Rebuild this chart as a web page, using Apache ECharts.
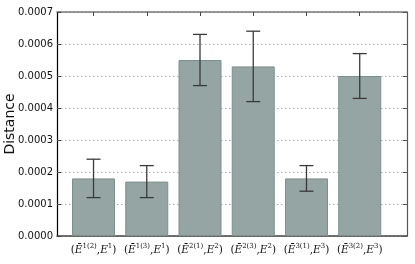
<!DOCTYPE html>
<html><head><meta charset="utf-8">
<script src="https://cdn.jsdelivr.net/npm/echarts@6/dist/echarts.min.js"></script>
<style>html,body{margin:0;padding:0;background:#fff}#c{width:415px;height:264px}</style>
</head><body><div id="c"></div>
<script>
// data
var barSup = ['1(2)', '1(3)', '2(1)', '2(3)', '3(1)', '3(2)'];
var targetSup = ['1', '1', '2', '2', '3', '3'];
var distances = [0.00018, 0.00017, 0.00055, 0.00053, 0.00018, 0.00050];
var errLow = [0.00012, 0.00012, 0.00047, 0.00042, 0.00014, 0.00043];
var errHigh = [0.00024, 0.00022, 0.00063, 0.00064, 0.00022, 0.00057];
var yTicks = [0, 0.0001, 0.0002, 0.0003, 0.0004, 0.0005, 0.0006, 0.0007];

var positions = distances.map(function (_, i) { return i; });
var barData = distances.map(function (v, i) { return [i, v]; });
var errData = distances.map(function (_, i) { return [i, errLow[i], errHigh[i]]; });

function labelFor(v) {
  var i = Math.round(v);
  return '{p|(}{e|E\u0304}{s|' + barSup[i] + '}{p|,}{e|E}{s|' + targetSup[i] + '}{p|)}';
}

var chart = echarts.init(document.getElementById('c'), null, { renderer: 'canvas' });
var xCommon = {
  type: 'value', min: -0.686, max: 5.888,
  splitLine: { show: false }
};
chart.setOption({
  animation: false,
  grid: { left: 57, right: 8, top: 12, bottom: 28, containLabel: false, outerBoundsMode: 'none' },
  xAxis: [
    Object.assign({}, xCommon, {
      position: 'bottom',
      axisLine: { show: true, onZero: false, lineStyle: { color: '#444', width: 1.5 } },
      axisTick: { show: true, inside: true, length: 4, customValues: positions, lineStyle: { color: '#444' } },
      axisLabel: {
        show: true, customValues: positions, formatter: labelFor, margin: 7,
        rich: {
          p: { fontFamily: 'DejaVu Serif', fontSize: 10.5, color: '#111' },
          e: { fontFamily: 'DejaVu Serif', fontStyle: 'italic', fontSize: 10.5, color: '#111' },
          s: { fontFamily: 'DejaVu Serif', fontSize: 7, color: '#111', padding: [0, 0, 8, 0] }
        }
      }
    }),
    Object.assign({}, xCommon, {
      position: 'top',
      axisLine: { show: true, onZero: false, lineStyle: { color: '#777', width: 1.5 } },
      axisTick: { show: true, inside: true, length: 4, customValues: positions, lineStyle: { color: '#444' } },
      axisLabel: { show: false }
    })
  ],
  yAxis: [
    {
      type: 'value', min: 0, max: 0.0007, interval: 0.0001, position: 'left',
      name: 'Distance', nameLocation: 'middle', nameGap: 40, nameMoveOverlap: false,
      nameTextStyle: { fontFamily: 'DejaVu Sans', fontSize: 14, color: '#111' },
      axisLine: { show: true, onZero: false, lineStyle: { color: '#000', width: 1.2 } },
      axisTick: { show: true, inside: true, length: 4, lineStyle: { color: '#444' } },
      axisLabel: {
        fontFamily: 'DejaVu Sans', fontSize: 10, color: '#111', margin: 4,
        formatter: function (v) { return v.toFixed(4); }
      },
      splitLine: { show: true, lineStyle: { color: '#aaa', type: [1.5, 2.5], width: 1 } }
    },
    {
      type: 'value', min: 0, max: 0.0007, interval: 0.0001, position: 'right',
      axisLine: { show: true, onZero: false, lineStyle: { color: '#555', width: 1.2 } },
      axisTick: { show: true, inside: true, length: 4, lineStyle: { color: '#555' } },
      axisLabel: { show: false },
      splitLine: { show: false }
    }
  ],
  series: [
    {
      type: 'bar', data: barData, barWidth: 43, xAxisIndex: 0, yAxisIndex: 0,
      itemStyle: { color: '#95a5a3', borderColor: '#7b908e', borderWidth: 1 },
      z: 2
    },
    {
      type: 'custom', data: errData, xAxisIndex: 0, yAxisIndex: 0,
      encode: { x: 0, y: [1, 2] }, z: 5,
      renderItem: function (params, api) {
        var x = api.value(0);
        var lo = api.coord([x, api.value(1)]);
        var hi = api.coord([x, api.value(2)]);
        var hw = 7;
        var st = { stroke: '#3a3a3a', lineWidth: 1.3 };
        return {
          type: 'group',
          children: [
            { type: 'line', shape: { x1: lo[0], y1: lo[1], x2: hi[0], y2: hi[1] }, style: st },
            { type: 'line', shape: { x1: lo[0] - hw, y1: lo[1], x2: lo[0] + hw, y2: lo[1] }, style: st },
            { type: 'line', shape: { x1: hi[0] - hw, y1: hi[1], x2: hi[0] + hw, y2: hi[1] }, style: st }
          ]
        };
      }
    }
  ]
});
</script></body></html>
